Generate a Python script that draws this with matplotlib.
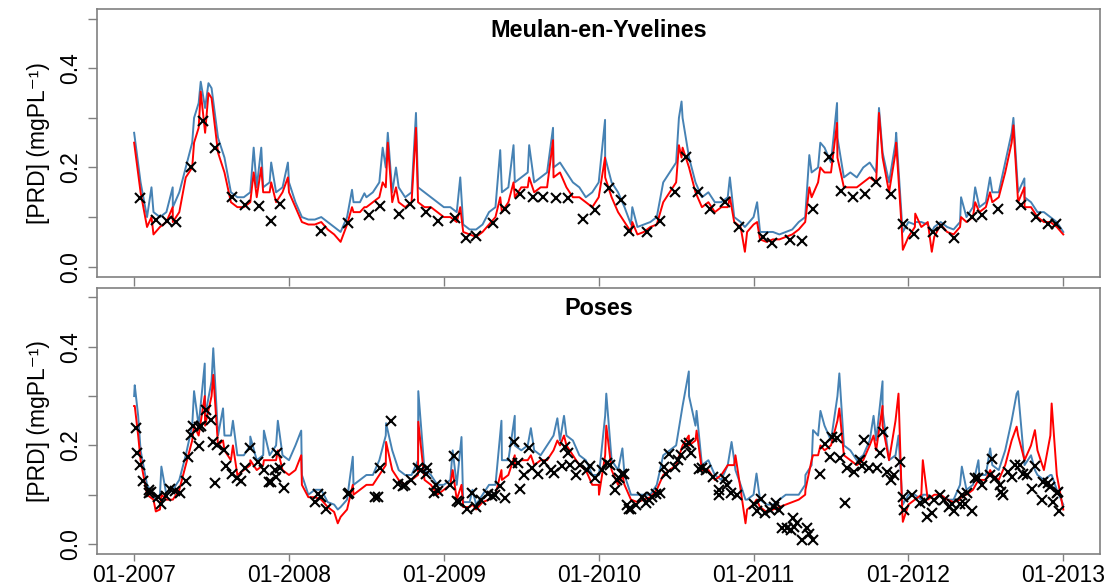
import matplotlib
matplotlib.use('Agg')
import matplotlib.pyplot as plt
import numpy as np

plt.rcParams['font.family'] = ['Liberation Sans', 'DejaVu Sans']

# half-monthly samples, 01-2007 .. 01-2013 (145 values)
meulan_blue = [0.27, 0.17, 0.10, 0.11, 0.10, 0.11, 0.12, 0.15, 0.20, 0.25, 0.33, 0.32, 0.36, 0.26, 0.22, 0.15, 0.14, 0.14, 0.15, 0.16, 0.16, 0.17, 0.15, 0.16,
               0.17, 0.13, 0.10, 0.095, 0.095, 0.10, 0.09, 0.08, 0.07, 0.10, 0.13, 0.13, 0.14, 0.15, 0.17, 0.20, 0.15, 0.16, 0.14, 0.15, 0.16, 0.15, 0.14, 0.13,
               0.12, 0.12, 0.11, 0.085, 0.075, 0.075, 0.085, 0.11, 0.12, 0.15, 0.16, 0.17, 0.18, 0.19, 0.17, 0.18, 0.19, 0.20, 0.21, 0.19, 0.17, 0.16, 0.14, 0.15,
               0.17, 0.22, 0.17, 0.15, 0.12, 0.085, 0.08, 0.085, 0.09, 0.10, 0.17, 0.19, 0.21, 0.30, 0.22, 0.17, 0.14, 0.15, 0.13, 0.13, 0.14, 0.10, 0.09, 0.085,
               0.10, 0.07, 0.07, 0.07, 0.065, 0.07, 0.075, 0.09, 0.10, 0.19, 0.20, 0.24, 0.21, 0.26, 0.18, 0.19, 0.18, 0.20, 0.21, 0.19, 0.23, 0.17, 0.25, 0.09,
               0.09, 0.085, 0.09, 0.085, 0.08, 0.09, 0.08, 0.075, 0.09, 0.10, 0.12, 0.12, 0.13, 0.15, 0.15, 0.21, 0.27, 0.15, 0.14, 0.13, 0.11, 0.11, 0.10, 0.09,
               0.07]
meulan_red = [0.25, 0.15, 0.08, 0.065, 0.08, 0.09, 0.09, 0.11, 0.18, 0.20, 0.28, 0.27, 0.34, 0.23, 0.19, 0.13, 0.12, 0.12, 0.13, 0.14, 0.15, 0.15, 0.13, 0.15,
              0.15, 0.12, 0.09, 0.085, 0.085, 0.09, 0.075, 0.065, 0.05, 0.085, 0.11, 0.11, 0.12, 0.13, 0.14, 0.16, 0.13, 0.13, 0.12, 0.13, 0.13, 0.12, 0.12, 0.11,
              0.10, 0.10, 0.09, 0.07, 0.065, 0.06, 0.07, 0.085, 0.10, 0.11, 0.13, 0.14, 0.16, 0.16, 0.15, 0.16, 0.16, 0.18, 0.19, 0.16, 0.14, 0.14, 0.13, 0.12,
              0.14, 0.18, 0.14, 0.11, 0.09, 0.07, 0.065, 0.07, 0.08, 0.085, 0.13, 0.15, 0.17, 0.24, 0.20, 0.15, 0.12, 0.13, 0.11, 0.12, 0.12, 0.09, 0.08, 0.07,
              0.085, 0.055, 0.05, 0.055, 0.055, 0.06, 0.065, 0.075, 0.09, 0.14, 0.17, 0.19, 0.19, 0.22, 0.16, 0.16, 0.16, 0.17, 0.18, 0.17, 0.22, 0.15, 0.23, 0.07,
              0.06, 0.08, 0.08, 0.09, 0.06, 0.085, 0.07, 0.065, 0.08, 0.09, 0.10, 0.11, 0.12, 0.13, 0.14, 0.19, 0.25, 0.13, 0.12, 0.12, 0.10, 0.09, 0.09, 0.08,
              0.065]
poses_blue = [0.30, 0.19, 0.12, 0.10, 0.10, 0.10, 0.11, 0.13, 0.18, 0.24, 0.24, 0.26, 0.33, 0.22, 0.22, 0.22, 0.18, 0.18, 0.20, 0.17, 0.18, 0.18, 0.20, 0.18,
              0.17, 0.20, 0.14, 0.10, 0.11, 0.11, 0.085, 0.08, 0.075, 0.09, 0.12, 0.13, 0.14, 0.14, 0.17, 0.22, 0.19, 0.15, 0.14, 0.14, 0.17, 0.15, 0.14, 0.12,
              0.12, 0.13, 0.12, 0.085, 0.085, 0.08, 0.10, 0.12, 0.12, 0.17, 0.17, 0.20, 0.19, 0.20, 0.19, 0.18, 0.20, 0.22, 0.21, 0.22, 0.21, 0.18, 0.17, 0.14,
              0.14, 0.26, 0.17, 0.15, 0.14, 0.10, 0.10, 0.10, 0.10, 0.12, 0.18, 0.19, 0.20, 0.28, 0.30, 0.24, 0.16, 0.17, 0.14, 0.13, 0.16, 0.17, 0.12, 0.09,
              0.10, 0.09, 0.08, 0.08, 0.09, 0.10, 0.10, 0.10, 0.12, 0.16, 0.22, 0.24, 0.21, 0.30, 0.20, 0.19, 0.17, 0.18, 0.21, 0.21, 0.27, 0.17, 0.18, 0.10,
              0.10, 0.10, 0.09, 0.10, 0.09, 0.10, 0.09, 0.09, 0.12, 0.11, 0.12, 0.14, 0.14, 0.16, 0.15, 0.19, 0.25, 0.31, 0.16, 0.18, 0.14, 0.13, 0.14, 0.11,
              0.08]
poses_red = [0.28, 0.17, 0.10, 0.09, 0.07, 0.09, 0.09, 0.11, 0.16, 0.21, 0.22, 0.24, 0.30, 0.20, 0.19, 0.17, 0.14, 0.15, 0.16, 0.15, 0.16, 0.17, 0.17, 0.15,
             0.14, 0.15, 0.12, 0.095, 0.095, 0.09, 0.075, 0.065, 0.055, 0.07, 0.10, 0.11, 0.12, 0.12, 0.14, 0.16, 0.15, 0.13, 0.12, 0.13, 0.14, 0.13, 0.12, 0.10,
             0.11, 0.12, 0.09, 0.075, 0.075, 0.07, 0.085, 0.09, 0.10, 0.13, 0.14, 0.16, 0.17, 0.17, 0.16, 0.17, 0.17, 0.19, 0.20, 0.20, 0.18, 0.16, 0.15, 0.12,
             0.12, 0.18, 0.15, 0.12, 0.12, 0.09, 0.085, 0.09, 0.095, 0.11, 0.14, 0.15, 0.16, 0.20, 0.20, 0.21, 0.15, 0.15, 0.13, 0.14, 0.16, 0.16, 0.11, 0.07,
             0.08, 0.075, 0.065, 0.07, 0.075, 0.08, 0.085, 0.09, 0.10, 0.17, 0.18, 0.19, 0.20, 0.25, 0.18, 0.17, 0.16, 0.17, 0.20, 0.19, 0.24, 0.17, 0.25, 0.08,
             0.08, 0.09, 0.10, 0.09, 0.10, 0.10, 0.09, 0.085, 0.09, 0.10, 0.11, 0.13, 0.13, 0.14, 0.13, 0.16, 0.21, 0.22, 0.17, 0.20, 0.19, 0.15, 0.22, 0.14,
             0.07]

# extra readings at short peaks / dips (decimal year, blue, red)
meulan_peak_t = [2007.112, 2007.249, 2007.387, 2007.430, 2007.480, 2007.772, 2007.821, 2007.885, 2007.993,
                 2008.407, 2008.487, 2008.605, 2008.638, 2008.691, 2008.820, 2009.106, 2009.364, 2009.450,
                 2009.551, 2009.705, 2010.041, 2010.217, 2010.518, 2010.535, 2010.847, 2010.944, 2011.023,
                 2011.360, 2011.431, 2011.539, 2011.810, 2011.921, 2011.964, 2012.044, 2012.151, 2012.340,
                 2012.431, 2012.527, 2012.678, 2012.749]
meulan_peak_blue = [0.16, 0.16, 0.30, 0.373, 0.37, 0.24, 0.24, 0.21, 0.21,
                    0.155, 0.148, 0.24, 0.27, 0.20, 0.31, 0.18, 0.235, 0.245,
                    0.245, 0.28, 0.296, 0.12, 0.30, 0.333, 0.18, 0.08, 0.13,
                    0.225, 0.25, 0.33, 0.32, 0.27, 0.07, 0.09, 0.07, 0.14,
                    0.16, 0.18, 0.30, 0.178]
meulan_peak_red = [0.10, 0.12, 0.25, 0.353, 0.35, 0.19, 0.20, 0.17, 0.18,
                   0.12, 0.12, 0.17, 0.25, 0.16, 0.28, 0.12, 0.14, 0.17,
                   0.18, 0.255, 0.22, 0.09, 0.245, 0.22, 0.14, 0.03, 0.09,
                   0.16, 0.20, 0.29, 0.31, 0.25, 0.034, 0.107, 0.03, 0.10,
                   0.13, 0.15, 0.285, 0.16]
poses_peak_t = [2007.004, 2007.026, 2007.140, 2007.176, 2007.387, 2007.456, 2007.511, 2007.574, 2007.638,
                2007.750, 2007.838, 2007.928, 2008.079, 2008.315, 2008.390, 2008.412, 2008.627, 2008.835,
                2009.057, 2009.114, 2009.185, 2009.372, 2009.458, 2009.562, 2009.733, 2009.776, 2010.002,
                2010.049, 2010.153, 2010.582, 2010.632, 2010.858, 2010.883, 2010.948, 2011.019, 2011.335,
                2011.384, 2011.432, 2011.554, 2011.775, 2011.833, 2011.936, 2011.964, 2012.093, 2012.345,
                2012.452, 2012.528, 2012.699, 2012.817, 2012.925]
poses_peak_blue = [0.322, 0.26, 0.09, 0.157, 0.31, 0.366, 0.397, 0.275, 0.25,
                   0.218, 0.23, 0.25, 0.23, 0.07, 0.126, 0.177, 0.245, 0.31,
                   0.19, 0.217, 0.11, 0.25, 0.26, 0.235, 0.255, 0.26, 0.14,
                   0.305, 0.194, 0.35, 0.27, 0.207, 0.15, 0.09, 0.143, 0.14,
                   0.231, 0.27, 0.346, 0.26, 0.33, 0.22, 0.08, 0.10, 0.157,
                   0.17, 0.194, 0.305, 0.15, 0.14]
poses_peak_red = [0.28, 0.22, 0.066, 0.10, 0.24, 0.30, 0.343, 0.21, 0.20,
                  0.17, 0.17, 0.19, 0.18, 0.042, 0.09, 0.12, 0.207, 0.248,
                  0.15, 0.12, 0.08, 0.15, 0.18, 0.18, 0.21, 0.22, 0.10,
                  0.24, 0.14, 0.22, 0.23, 0.16, 0.18, 0.042, 0.09, 0.11,
                  0.18, 0.20, 0.275, 0.22, 0.28, 0.305, 0.045, 0.17, 0.10,
                  0.13, 0.15, 0.238, 0.231, 0.285]

# observations (crosses)
meulan_obs_t = [2007.041, 2007.138, 2007.211, 2007.273, 2007.365, 2007.443, 2007.520, 2007.634, 2007.714, 2007.806,
                2007.885, 2007.943, 2008.208, 2008.384, 2008.519, 2008.590, 2008.709, 2008.781, 2008.885, 2008.960,
                2009.073, 2009.145, 2009.207, 2009.317, 2009.392, 2009.493, 2009.573, 2009.643, 2009.725, 2009.800,
                2009.897, 2009.976, 2010.067, 2010.142, 2010.196, 2010.314, 2010.393, 2010.490, 2010.565, 2010.640,
                2010.716, 2010.815, 2010.909, 2011.062, 2011.120, 2011.238, 2011.313, 2011.384, 2011.485, 2011.567,
                2011.640, 2011.717, 2011.792, 2011.889, 2011.964, 2012.033, 2012.156, 2012.209, 2012.295, 2012.409,
                2012.478, 2012.577, 2012.727, 2012.824, 2012.904, 2012.951]
meulan_obs = [0.139, 0.095, 0.093, 0.090, 0.200, 0.294, 0.239, 0.141, 0.124, 0.122,
              0.093, 0.126, 0.071, 0.089, 0.104, 0.122, 0.106, 0.126, 0.111, 0.092,
              0.099, 0.058, 0.062, 0.089, 0.116, 0.147, 0.141, 0.141, 0.138, 0.138,
              0.097, 0.114, 0.158, 0.134, 0.071, 0.069, 0.092, 0.151, 0.222, 0.151,
              0.117, 0.131, 0.079, 0.059, 0.048, 0.054, 0.052, 0.116, 0.222, 0.153,
              0.141, 0.147, 0.171, 0.146, 0.087, 0.066, 0.069, 0.083, 0.058, 0.101,
              0.104, 0.116, 0.124, 0.101, 0.087, 0.086]
poses_obs_t = [2007.009, 2007.021, 2007.041, 2007.058, 2007.097, 2007.112, 2007.095, 2007.155, 2007.172, 2007.208,
               2007.232, 2007.262, 2007.294, 2007.333, 2007.348, 2007.365, 2007.383, 2007.417, 2007.434, 2007.417,
               2007.466, 2007.499, 2007.520, 2007.509, 2007.537, 2007.578, 2007.595, 2007.634, 2007.666, 2007.692,
               2007.714, 2007.750, 2007.800, 2007.836, 2007.868, 2007.885, 2007.907, 2007.924, 2007.939, 2007.918,
               2007.967, 2008.186, 2008.171, 2008.208, 2008.236, 2008.384, 2008.390, 2008.555, 2008.577, 2008.590,
               2008.659, 2008.706, 2008.734, 2008.751, 2008.788, 2008.831, 2008.852, 2008.891, 2008.885, 2008.938,
               2008.949, 2008.964, 2009.041, 2009.067, 2009.084, 2009.099, 2009.149, 2009.185, 2009.207, 2009.239,
               2009.282, 2009.314, 2009.331, 2009.364, 2009.396, 2009.450, 2009.443, 2009.493, 2009.476, 2009.515,
               2009.551, 2009.568, 2009.605, 2009.648, 2009.691, 2009.712, 2009.766, 2009.783, 2009.802, 2009.815,
               2009.852, 2009.880, 2009.927, 2009.944, 2009.974, 2010.024, 2010.056, 2010.073, 2010.103, 2010.116,
               2010.148, 2010.131, 2010.163, 2010.181, 2010.196, 2010.206, 2010.239, 2010.282, 2010.303, 2010.325,
               2010.346, 2010.368, 2010.395, 2010.421, 2010.432, 2010.454, 2010.490, 2010.512, 2010.529, 2010.561,
               2010.582, 2010.593, 2010.647, 2010.668, 2010.696, 2010.739, 2010.776, 2010.776, 2010.818, 2010.826,
               2010.857, 2010.894, 2011.001, 2011.023, 2011.045, 2011.077, 2011.105, 2011.131, 2011.142, 2011.163,
               2011.185, 2011.217, 2011.239, 2011.256, 2011.282, 2011.260, 2011.314, 2011.346, 2011.361, 2011.385,
               2011.432, 2011.464, 2011.492, 2011.507, 2011.540, 2011.561, 2011.589, 2011.604, 2011.647, 2011.686,
               2011.701, 2011.716, 2011.744, 2011.797, 2011.814, 2011.835, 2011.861, 2011.887, 2011.904, 2011.947,
               2011.964, 2011.969, 2012.022, 2012.072, 2012.108, 2012.119, 2012.151, 2012.162, 2012.205, 2012.227,
               2012.259, 2012.280, 2012.295, 2012.334, 2012.345, 2012.366, 2012.381, 2012.409, 2012.431, 2012.452,
               2012.474, 2012.528, 2012.538, 2012.560, 2012.592, 2012.597, 2012.614, 2012.646, 2012.667, 2012.689,
               2012.721, 2012.743, 2012.764, 2012.796, 2012.817, 2012.861, 2012.871, 2012.903, 2012.932, 2012.914,
               2012.957, 2012.972, 2012.968]
poses_obs = [0.236, 0.185, 0.160, 0.128, 0.109, 0.105, 0.103, 0.096, 0.082, 0.097,
             0.111, 0.107, 0.104, 0.128, 0.177, 0.222, 0.240, 0.199, 0.240, 0.238,
             0.272, 0.251, 0.124, 0.206, 0.201, 0.191, 0.159, 0.142, 0.134, 0.128,
             0.155, 0.194, 0.167, 0.151, 0.126, 0.126, 0.151, 0.184, 0.155, 0.136,
             0.114, 0.101, 0.086, 0.096, 0.072, 0.101, 0.103, 0.096, 0.096, 0.155,
             0.249, 0.122, 0.118, 0.120, 0.130, 0.155, 0.150, 0.155, 0.143, 0.103,
             0.120, 0.107, 0.120, 0.178, 0.088, 0.086, 0.072, 0.104, 0.076, 0.089,
             0.101, 0.098, 0.099, 0.118, 0.093, 0.207, 0.164, 0.111, 0.165, 0.139,
             0.194, 0.155, 0.143, 0.167, 0.150, 0.145, 0.158, 0.197, 0.184, 0.160,
             0.140, 0.160, 0.150, 0.159, 0.133, 0.151, 0.164, 0.160, 0.109, 0.130,
             0.143, 0.133, 0.142, 0.079, 0.072, 0.072, 0.079, 0.096, 0.084, 0.089,
             0.096, 0.101, 0.103, 0.157, 0.143, 0.182, 0.157, 0.170, 0.180, 0.201,
             0.204, 0.184, 0.153, 0.155, 0.151, 0.136, 0.099, 0.109, 0.131, 0.120,
             0.104, 0.099, 0.082, 0.066, 0.091, 0.062, 0.069, 0.076, 0.084, 0.069,
             0.032, 0.032, 0.028, 0.052, 0.043, 0.035, 0.008, 0.032, 0.020, 0.009,
             0.143, 0.202, 0.177, 0.218, 0.214, 0.174, 0.084, 0.155, 0.147, 0.170,
             0.158, 0.211, 0.155, 0.155, 0.185, 0.228, 0.147, 0.130, 0.140, 0.167,
             0.096, 0.069, 0.099, 0.084, 0.087, 0.055, 0.062, 0.089, 0.099, 0.089,
             0.076, 0.082, 0.066, 0.082, 0.099, 0.082, 0.103, 0.066, 0.133, 0.133,
             0.120, 0.140, 0.172, 0.133, 0.120, 0.106, 0.099, 0.147, 0.136, 0.160,
             0.160, 0.143, 0.140, 0.111, 0.158, 0.089, 0.126, 0.123, 0.086, 0.116,
             0.103, 0.066, 0.106]

years = [2007, 2008, 2009, 2010, 2011, 2012, 2013]
year_labels = ['01-2007', '01-2008', '01-2009', '01-2010', '01-2011', '01-2012', '01-2013']

t_grid = 2007 + np.arange(len(meulan_blue)) / 24.0


def merge(t1, v1, t2, v2):
    t = np.concatenate([t1, t2])
    v = np.concatenate([v1, v2])
    o = np.argsort(t)
    return t[o], v[o]


fig = plt.figure(figsize=(11.12, 5.86), dpi=100)
ax1 = fig.add_axes([0.0872, 0.528, 0.9024, 0.457])
ax2 = fig.add_axes([0.0872, 0.0548, 0.9024, 0.4544])

panels = [
    (ax1, 'Meulan-en-Yvelines', meulan_blue, meulan_red, meulan_peak_t, meulan_peak_blue, meulan_peak_red,
     meulan_obs_t, meulan_obs),
    (ax2, 'Poses', poses_blue, poses_red, poses_peak_t, poses_peak_blue, poses_peak_red,
     poses_obs_t, poses_obs),
]

for ax, name, blue, red, pk_t, pk_b, pk_r, obs_t, obs in panels:
    tb, vb = merge(t_grid, blue, pk_t, pk_b)
    tr, vr = merge(t_grid, red, pk_t, pk_r)
    ax.plot(tb, vb, color='steelblue', lw=1.4)
    ax.plot(tr, vr, color='red', lw=1.4)
    ax.plot(obs_t, obs, 'x', color='black', ms=7, mew=1.5)
    ax.set_xlim(2006.76, 2013.24)
    ax.set_ylim(-0.02, 0.52)
    ax.set_yticks([0.0, 0.1, 0.2, 0.3, 0.4, 0.5])
    ax.set_yticklabels(['0.0', '', '0.2', '', '0.4', ''], rotation=90, va='center')
    ax.set_xticks(years)
    ax.set_ylabel('[PRD] (mgPL\u207b\u00b9)', fontsize=16.5, labelpad=7)
    ax.tick_params(axis='both', labelsize=16.5, length=6.5, width=1, color='#808080', pad=4)
    for s in ax.spines.values():
        s.set_color('#808080')
        s.set_linewidth(1.2)
    ax.text(0.5, 0.92, name, transform=ax.transAxes, ha='center', va='center',
            fontsize=16.8, fontweight='bold')

ax1.set_xticklabels([])
ax2.set_xticklabels(year_labels)
ax2.tick_params(axis='x', length=5, pad=2)

fig.savefig('out.png', dpi=100)
